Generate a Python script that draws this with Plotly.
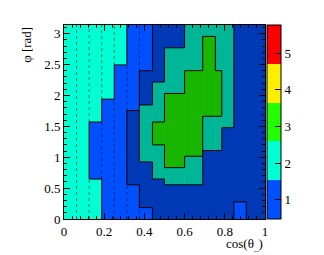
import numpy as np
import plotly.graph_objects as go

# ---------------- data ----------------
# bin edges in cos(theta)
x_edges = [0, 0.0625, 0.125, 0.1875, 0.25, 0.3125, 0.375, 0.44, 0.5,
           0.6, 0.69, 0.753, 0.785, 0.845, 0.907, 1.0]
# phi binning
n_phi_bins = 34
phi_max = np.pi
# per cos(theta) column: runs of (upper phi-bin index, bin content, hatched flag)
col_runs = [
    [(34, 2.0, 0)],
    [(34, 2.0, 0)],
    [(7, 2.0, 0), (17, 1.0, 0), (34, 2.0, 0)],
    [(21, 1.0, 0), (34, 2.0, 0)],
    [(27, 1.0, 0), (34, 2.0, 0)],
    [(6, 1.0, 0), (19, 1.0, 1), (34, 1.0, 0)],
    [(2, 1.0, 0), (10, 1.0, 1), (20, 2.0, 1), (26, 1.0, 1), (34, 1.0, 0)],
    [(7, 1.0, 1), (13, 2.0, 1), (17, 3.0, 1), (24, 2.0, 1), (34, 1.0, 1)],
    [(6, 1.0, 1), (9, 2.0, 1), (22, 3.0, 1), (30, 2.0, 1), (34, 1.0, 1)],
    [(6, 1.0, 1), (11, 2.0, 1), (26, 3.0, 1), (34, 2.0, 1)],
    [(12, 1.0, 1), (18, 2.0, 1), (32, 3.0, 1), (34, 2.0, 1)],
    [(12, 1.0, 1), (18, 2.0, 1), (26, 3.0, 1), (34, 2.0, 1)],
    [(16, 1.0, 1), (34, 2.0, 1)],
    [(3, 1.0, 0), (34, 1.0, 1)],
    [(34, 1.0, 1)],
]
z_min, z_max = 0.48, 5.77
colorbar_ticks = [1, 2, 3, 4, 5]
x_ticks = [0, 0.2, 0.4, 0.6, 0.8, 1]
x_tick_text = ["0", "0.2", "0.4", "0.6", "0.8", "1"]
y_ticks = [0, 0.5, 1, 1.5, 2, 2.5, 3]
y_tick_text = ["0", "0.5", "1", "1.5", "2", "2.5", "3"]
palette = ["#0050ff", "#00ffd2", "#22ff00", "#ffee00", "#ff0000"]
x_title = "cos(θ<sub>_</sub>)"
y_title = "φ [rad]"

# ---------------- build grid ----------------
dphi = phi_max / n_phi_bins
y_edges = [k * dphi for k in range(n_phi_bins + 1)]
ncol = len(col_runs)
z = np.zeros((n_phi_bins, ncol))
hatch = np.zeros((n_phi_bins, ncol), dtype=int)
for i, runs in enumerate(col_runs):
    s = 0
    for e, v, h in runs:
        z[s:e, i] = v
        hatch[s:e, i] = h
        s = e

nband = len(palette)
cs = []
for j, c in enumerate(palette):
    cs += [[j / nband, c], [(j + 1) / nband, c]]

FONT = "Liberation Serif"
fig = go.Figure()
fig.add_trace(go.Heatmap(
    x=x_edges, y=y_edges, z=z, zmin=z_min, zmax=z_max, colorscale=cs,
    hoverinfo="skip",
    colorbar=dict(x=1.01, xanchor="left", y=0.5, yanchor="middle", len=1,
                  thickness=14, xpad=0, ypad=0, outlinewidth=1, outlinecolor="black",
                  tickvals=colorbar_ticks, ticks="inside", ticklen=6, tickcolor="black",
                  tickfont=dict(family=FONT, size=13, color="black")),
))

# hatched overlay
hx, hw, hb, hy = [], [], [], []
for i, runs in enumerate(col_runs):
    s = 0
    for e, v, h in runs:
        if h:
            hx.append((x_edges[i] + x_edges[i + 1]) / 2)
            hw.append(x_edges[i + 1] - x_edges[i])
            hb.append(y_edges[s])
            hy.append(y_edges[e] - y_edges[s])
        s = e
fig.add_trace(go.Bar(
    x=hx, y=hy, base=hb, width=hw, hoverinfo="skip", showlegend=False,
    marker=dict(color="rgba(0,0,0,0)", line=dict(width=0),
                pattern=dict(shape=".", fgcolor="black", fgopacity=0.65,
                             size=2, solidity=0.5, fillmode="overlay")),
))

# boundaries between differing cells
def key(k, i):
    return (z[k, i], hatch[k, i])

bx, by, dx, dy = [], [], [], []
for i in range(ncol):
    for k in range(1, n_phi_bins):
        if key(k - 1, i) != key(k, i):
            bx += [x_edges[i], x_edges[i + 1], None]
            by += [y_edges[k], y_edges[k], None]
for i in range(ncol - 1):
    k = 0
    while k < n_phi_bins:
        diff = key(k, i) != key(k, i + 1)
        solid = (not diff) and hatch[k, i] == 0 and hatch[k, i + 1] == 0
        k0 = k
        while k < n_phi_bins and (key(k, i) != key(k, i + 1)) == diff and \
                ((not diff) and hatch[k, i] == 0 and hatch[k, i + 1] == 0) == solid:
            k += 1
        if diff:
            bx += [x_edges[i + 1]] * 2 + [None]
            by += [y_edges[k0], y_edges[k], None]
        elif solid:
            dx += [x_edges[i + 1]] * 2 + [None]
            dy += [y_edges[k0], y_edges[k], None]

fig.add_trace(go.Scatter(x=dx, y=dy, mode="lines", hoverinfo="skip", showlegend=False,
                         line=dict(color="rgba(0,0,0,0.5)", width=1, dash="dot")))
fig.add_trace(go.Scatter(x=bx, y=by, mode="lines", hoverinfo="skip", showlegend=False,
                         line=dict(color="black", width=1)))

axis_common = dict(showline=True, linecolor="black", linewidth=1, mirror="ticks",
                   ticks="inside", ticklen=6, tickcolor="black", showgrid=False,
                   zeroline=False, layer="above traces",
                   tickfont=dict(family=FONT, size=13, color="black"))
fig.update_xaxes(range=[0, 1], tickvals=x_ticks, ticktext=x_tick_text,
                 minor=dict(ticks="inside", ticklen=3, dtick=0.04, tickcolor="black"),
                 **axis_common)
fig.update_yaxes(range=[0, phi_max], tickvals=y_ticks, ticktext=y_tick_text,
                 minor=dict(ticks="inside", ticklen=3, dtick=0.1, tickcolor="black"),
                 **axis_common)

fig.add_annotation(text=y_title, xref="paper", yref="paper", x=-0.19, y=1.0,
                   xanchor="center", yanchor="top", textangle=-90, showarrow=False,
                   font=dict(family=FONT, size=13, color="black"))
fig.add_annotation(text=x_title, xref="paper", yref="paper", x=1.0, y=-0.13,
                   xanchor="right", yanchor="middle", showarrow=False,
                   font=dict(family=FONT, size=13, color="black"))

# page body has an 8px margin: shrink figure and left/top margins to keep plot area in place
fig.update_layout(width=316, height=247, margin=dict(l=56, r=59, t=17, b=36),
                  paper_bgcolor="white", plot_bgcolor="white", barmode="overlay",
                  showlegend=False)
fig.write_html("out.html")
